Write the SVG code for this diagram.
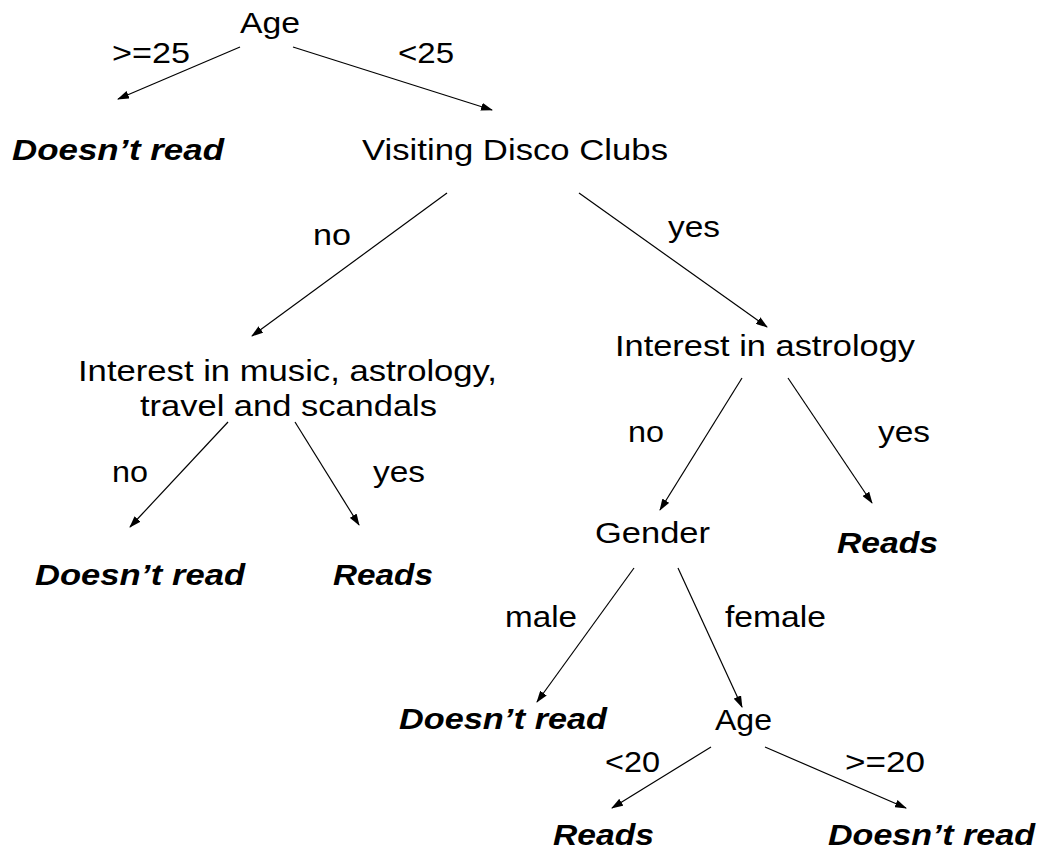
<svg xmlns="http://www.w3.org/2000/svg" width="1040" height="850" viewBox="0 0 1040 850">
<defs>
<marker id="ah" markerWidth="12" markerHeight="8" refX="11" refY="4" orient="auto" markerUnits="userSpaceOnUse">
<path d="M0,0 L12,4 L0,8 Z" fill="#000"/>
</marker>
<style>
text{font-family:"Liberation Sans",Arial,sans-serif;font-size:30px;fill:#000}
.n{}
.leaf{font-weight:bold;font-style:italic}
.lbl{}
.e line{stroke:#000;stroke-width:1.2;marker-end:url(#ah)}
</style>
</defs>
<rect width="1040" height="850" fill="#fff"/>
<g id="connectors" class="e">
<line x1="240" y1="47" x2="118" y2="99"/>
<line x1="293" y1="47" x2="492" y2="110"/>
<line x1="447" y1="193" x2="252" y2="336"/>
<line x1="579" y1="193" x2="767" y2="327"/>
<line x1="228" y1="422" x2="130" y2="527"/>
<line x1="295" y1="422" x2="359" y2="525"/>
<line x1="742" y1="378" x2="660" y2="510"/>
<line x1="788" y1="378" x2="872" y2="503"/>
<line x1="634" y1="568" x2="537" y2="702"/>
<line x1="678" y1="568" x2="742" y2="707"/>
<line x1="711" y1="747" x2="612" y2="808"/>
<line x1="765" y1="747" x2="906" y2="808"/>
</g>
<g id="labels">
<text class="lbl" x="112" y="63" textLength="78" lengthAdjust="spacingAndGlyphs">&gt;=25</text>
<text class="lbl" x="398" y="63" textLength="56" lengthAdjust="spacingAndGlyphs">&lt;25</text>
<text class="lbl" x="313" y="245" textLength="38" lengthAdjust="spacingAndGlyphs">no</text>
<text class="lbl" x="668" y="237" textLength="52" lengthAdjust="spacingAndGlyphs">yes</text>
<text class="lbl" x="112" y="482" textLength="36" lengthAdjust="spacingAndGlyphs">no</text>
<text class="lbl" x="373" y="482" textLength="52" lengthAdjust="spacingAndGlyphs">yes</text>
<text class="lbl" x="628" y="442" textLength="36" lengthAdjust="spacingAndGlyphs">no</text>
<text class="lbl" x="878" y="442" textLength="52" lengthAdjust="spacingAndGlyphs">yes</text>
<text class="lbl" x="505" y="627" textLength="72" lengthAdjust="spacingAndGlyphs">male</text>
<text class="lbl" x="725" y="627" textLength="101" lengthAdjust="spacingAndGlyphs">female</text>
<text class="lbl" x="605" y="772" textLength="55" lengthAdjust="spacingAndGlyphs">&lt;20</text>
<text class="lbl" x="845" y="772" textLength="80" lengthAdjust="spacingAndGlyphs">&gt;=20</text>
</g>
<g id="node-age"><text class="n" x="240" y="33" textLength="60" lengthAdjust="spacingAndGlyphs">Age</text></g>
<g id="node-leaf1"><text class="leaf" x="12" y="160" textLength="212" lengthAdjust="spacingAndGlyphs">Doesn’t read</text></g>
<g id="node-disco"><text class="n" x="362" y="160" textLength="306" lengthAdjust="spacingAndGlyphs">Visiting Disco Clubs</text></g>
<g id="node-music">
<text class="n" x="78" y="381" textLength="419" lengthAdjust="spacingAndGlyphs">Interest in music, astrology,</text>
<text class="n" x="140" y="416" textLength="297" lengthAdjust="spacingAndGlyphs">travel and scandals</text>
</g>
<g id="node-astrology"><text class="n" x="615" y="356" textLength="300" lengthAdjust="spacingAndGlyphs">Interest in astrology</text></g>
<g id="node-leaf2"><text class="leaf" x="35" y="585" textLength="210" lengthAdjust="spacingAndGlyphs">Doesn’t read</text></g>
<g id="node-leaf3"><text class="leaf" x="333" y="585" textLength="100" lengthAdjust="spacingAndGlyphs">Reads</text></g>
<g id="node-gender"><text class="n" x="595" y="543" textLength="115" lengthAdjust="spacingAndGlyphs">Gender</text></g>
<g id="node-leaf4"><text class="leaf" x="837" y="553" textLength="101" lengthAdjust="spacingAndGlyphs">Reads</text></g>
<g id="node-leaf5"><text class="leaf" x="399" y="729" textLength="208" lengthAdjust="spacingAndGlyphs">Doesn’t read</text></g>
<g id="node-age2"><text class="n" x="715" y="730" textLength="57" lengthAdjust="spacingAndGlyphs">Age</text></g>
<g id="node-leaf6"><text class="leaf" x="553" y="845" textLength="101" lengthAdjust="spacingAndGlyphs">Reads</text></g>
<g id="node-leaf7"><text class="leaf" x="828" y="845" textLength="207" lengthAdjust="spacingAndGlyphs">Doesn’t read</text></g>
</svg>
